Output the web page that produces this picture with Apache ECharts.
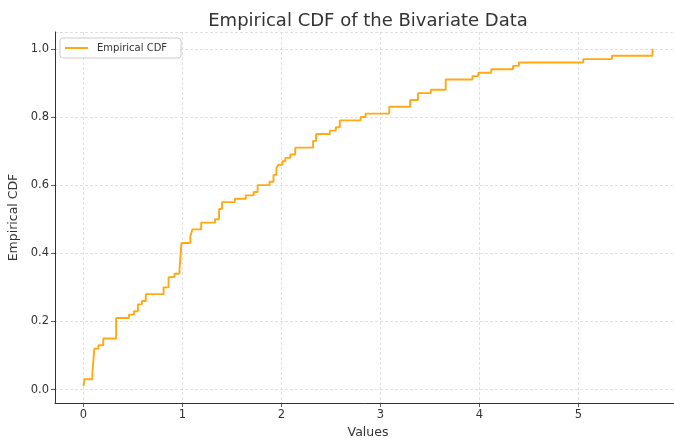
<!DOCTYPE html>
<html>
<head>
<meta charset="utf-8">
<title>Empirical CDF of the Bivariate Data</title>
<script src="https://cdn.jsdelivr.net/npm/echarts@6/dist/echarts.min.js"></script>
<style>
  html, body { margin: 0; padding: 0; background: #ffffff; }
  #chart { width: 674px; height: 438px; }
</style>
</head>
<body>
<div id="chart"></div>
<script>
// Sorted sample values where the empirical CDF steps up
const jumpValues = [
  0.00, 0.01, 0.09, 0.11, 0.15, 0.20, 0.33, 0.46, 0.51, 0.55,
  0.59, 0.63, 0.81, 0.86, 0.92, 0.97, 0.99, 1.08, 1.10, 1.19,
  1.33, 1.37, 1.40, 1.53, 1.64, 1.72, 1.76, 1.88, 1.92, 1.95,
  1.97, 2.01, 2.04, 2.09, 2.14, 2.32, 2.35, 2.49, 2.55, 2.59,
  2.80, 2.85, 3.09, 3.30, 3.38, 3.51, 3.66, 3.93, 3.99, 4.12,
  4.34, 4.40, 5.05, 5.34, 5.75
];
// CDF level reached at each of those values
const cdfLevels = [
  0.01, 0.03, 0.05, 0.12, 0.13, 0.15, 0.21, 0.22, 0.23, 0.25,
  0.26, 0.28, 0.30, 0.33, 0.34, 0.35, 0.43, 0.45, 0.47, 0.49,
  0.50, 0.53, 0.55, 0.56, 0.57, 0.58, 0.60, 0.61, 0.63, 0.65,
  0.66, 0.67, 0.68, 0.69, 0.71, 0.73, 0.75, 0.76, 0.77, 0.79,
  0.80, 0.81, 0.83, 0.85, 0.87, 0.88, 0.91, 0.92, 0.93, 0.94,
  0.95, 0.96, 0.97, 0.98, 1.00
];

const seriesName = 'Empirical CDF';
const textColor = '#333333';
const lineColor = '#ffaa14';
const fontFamily = '"DejaVu Sans", sans-serif';

// Axis extents padded by 5% of the data span on each side
const xSpan = jumpValues[jumpValues.length - 1] - jumpValues[0];
const ySpan = cdfLevels[cdfLevels.length - 1] - cdfLevels[0];
const xMin = jumpValues[0] - 0.05 * xSpan;
const xMax = jumpValues[jumpValues.length - 1] + 0.05 * xSpan;
const yMin = cdfLevels[0] - 0.05 * ySpan;
const yMax = cdfLevels[cdfLevels.length - 1] + 0.05 * ySpan;

const points = jumpValues.map((v, i) => [v, cdfLevels[i]]);

const chart = echarts.init(document.getElementById('chart'), null, { renderer: 'canvas' });

const gridLine = { show: true, lineStyle: { color: '#d9d9d9', width: 0.8, type: [3, 2] } };

chart.setOption({
  animation: false,
  backgroundColor: '#ffffff',
  textStyle: { fontFamily: fontFamily },
  title: {
    text: 'Empirical CDF of the Bivariate Data',
    left: 363,
    top: 7,
    textAlign: 'center',
    textStyle: { fontFamily: fontFamily, fontSize: 18, fontWeight: 'normal', color: textColor }
  },
  legend: {
    left: 60,
    top: 38,
    padding: [4, 14, 4, 5],
    itemWidth: 23,
    itemHeight: 2,
    borderColor: '#cccccc',
    borderWidth: 1,
    borderRadius: 3,
    backgroundColor: 'rgba(255,255,255,0.85)',
    textStyle: { fontFamily: fontFamily, fontSize: 10, color: textColor, padding: [0, 0, 0, 4], lineHeight: 12 },
    data: [{ name: seriesName, icon: 'rect' }]
  },
  grid: { left: 55, right: -7, top: 32, bottom: 35, outerBoundsMode: 'none' },
  xAxis: {
    type: 'value',
    min: xMin,
    max: xMax,
    splitNumber: 6,
    name: 'Values',
    nameLocation: 'middle',
    nameGap: 22,
    nameTextStyle: { fontFamily: fontFamily, fontSize: 12.5, color: textColor },
    axisLine: { show: true, onZero: false, lineStyle: { color: '#333333', width: 1 } },
    axisTick: { show: true, length: 4, lineStyle: { color: '#333333', width: 0.8 } },
    axisLabel: {
      showMinLabel: false,
      showMaxLabel: false,
      hideOverlap: false,
      margin: 6,
      fontFamily: fontFamily,
      fontSize: 11.5,
      color: textColor,
      formatter: v => String(Math.round(v))
    },
    splitLine: gridLine
  },
  yAxis: {
    type: 'value',
    min: yMin,
    max: yMax,
    splitNumber: 5,
    name: 'Empirical CDF',
    nameLocation: 'middle',
    nameGap: 26,
    nameTextStyle: { fontFamily: fontFamily, fontSize: 12.5, color: textColor },
    axisLine: { show: true, onZero: false, lineStyle: { color: '#333333', width: 1 } },
    axisTick: { show: true, length: 4, lineStyle: { color: '#333333', width: 0.8 } },
    axisLabel: {
      showMinLabel: false,
      showMaxLabel: false,
      margin: 6,
      fontFamily: fontFamily,
      fontSize: 11.5,
      color: textColor,
      formatter: v => v.toFixed(1)
    },
    splitLine: gridLine
  },
  series: [{
    name: seriesName,
    type: 'line',
    step: 'end',
    symbol: 'none',
    data: points,
    lineStyle: { color: lineColor, width: 1.9 },
    itemStyle: { color: lineColor },
    z: 3
  }]
});
</script>
</body>
</html>
